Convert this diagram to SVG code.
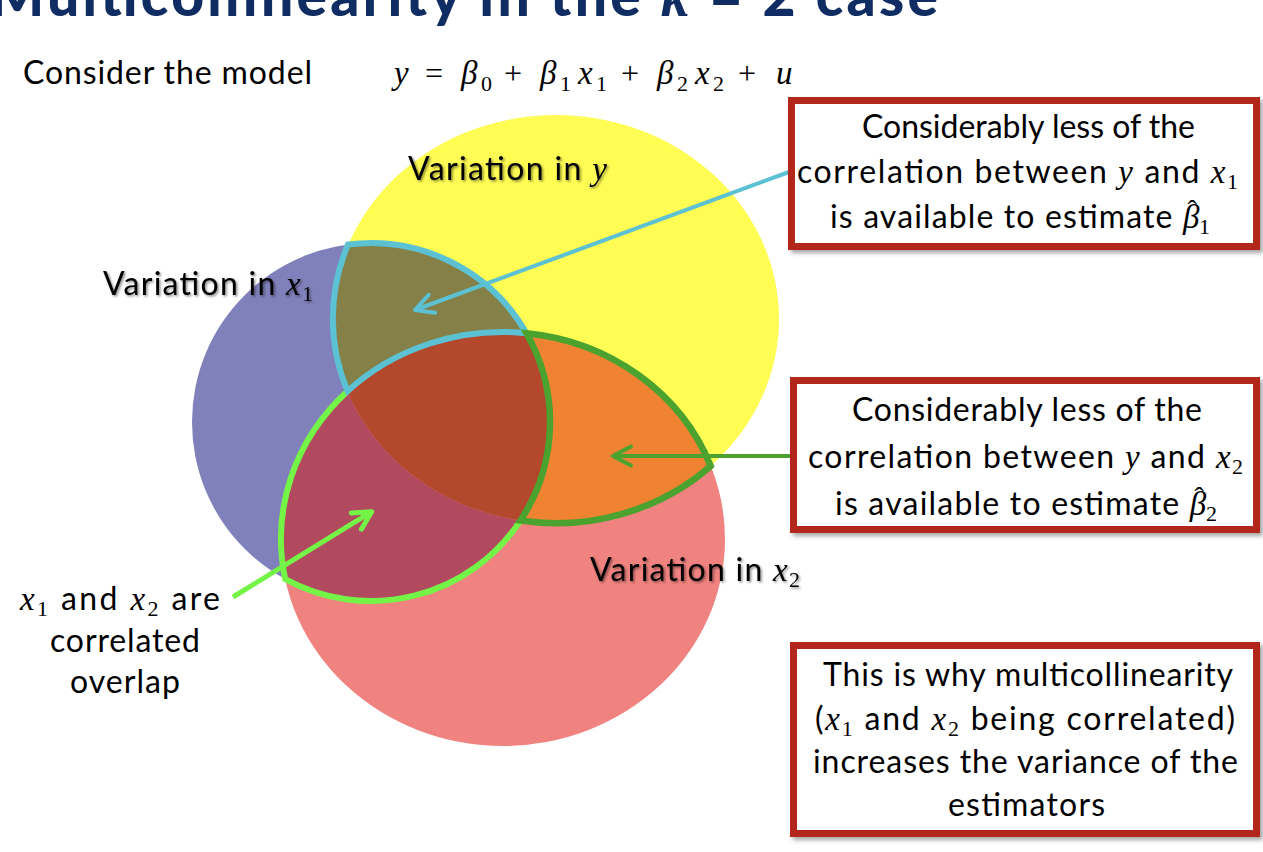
<svg xmlns="http://www.w3.org/2000/svg" width="1263" height="852" viewBox="0 0 1263 852">
<defs>
<style>
.t{font-family:Lato,"Liberation Sans",sans-serif;font-size:32px;fill:#000}
.m{font-family:"Liberation Serif",serif;font-style:italic;font-size:33px}
.s{font-family:"Liberation Serif",serif;font-style:normal;font-size:22px}
.op{font-family:"Liberation Serif",serif;font-style:normal;font-size:32px}
.hat{font-family:"Liberation Serif",serif;font-style:normal;font-size:28px}
.box{fill:#fff;stroke:#B2251D;stroke-width:7}
.conn{stroke:#B2251D;stroke-width:7;fill:none}
.lbl{filter:url(#tsh)}
</style>
<filter id="bsh" x="-5%" y="-5%" width="115%" height="120%"><feDropShadow dx="3" dy="3" stdDeviation="2" flood-color="#000" flood-opacity="0.35"/></filter>
<filter id="tsh" x="-5%" y="-20%" width="115%" height="150%"><feDropShadow dx="1.5" dy="1.5" stdDeviation="1" flood-color="#000" flood-opacity="0.45"/></filter>
<marker id="ac" viewBox="-24 -14 28 28" refX="0" refY="0" markerWidth="28" markerHeight="28" markerUnits="userSpaceOnUse" orient="auto"><path d="M-18,-9.5 L0,0 L-18,9.5" fill="none" stroke="#5BC1D3" stroke-width="4" stroke-linecap="round" stroke-linejoin="round"/></marker>
<marker id="ag" viewBox="-24 -14 28 28" refX="0" refY="0" markerWidth="28" markerHeight="28" markerUnits="userSpaceOnUse" orient="auto"><path d="M-18,-9.5 L0,0 L-18,9.5" fill="none" stroke="#4CA22F" stroke-width="4" stroke-linecap="round" stroke-linejoin="round"/></marker>
<marker id="al" viewBox="-24 -14 28 28" refX="0" refY="0" markerWidth="28" markerHeight="28" markerUnits="userSpaceOnUse" orient="auto"><path d="M-18,-9.5 L0,0 L-18,9.5" fill="none" stroke="#74F447" stroke-width="5" stroke-linecap="round" stroke-linejoin="round"/></marker>
</defs>

<rect width="1263" height="852" fill="#fff"/>

<g id="title">
<text x="-10" y="16" font-family="Lato,'Liberation Sans',sans-serif" font-weight="900" font-size="57" fill="#0F2D63" textLength="948">Multicollinearity in the <tspan font-family="'Liberation Serif',serif" font-style="italic" font-weight="700">k</tspan> = 2 case</text>
</g>

<g id="model">
<text class="t" x="23" y="84" font-size="29" textLength="289">Consider the model</text>
<text y="84" font-size="34">
<tspan class="m" font-size="35" x="394">y</tspan>
<tspan class="op" font-size="34" x="425">=</tspan>
<tspan class="m" font-size="35" x="461">β</tspan><tspan class="s" font-size="23" x="481" y="91">0</tspan>
<tspan class="op" font-size="34" x="504" y="84">+</tspan>
<tspan class="m" font-size="35" x="540">β</tspan><tspan class="s" font-size="23" x="560" y="91">1</tspan>
<tspan class="m" font-size="35" x="578" y="84">x</tspan><tspan class="s" font-size="23" x="596" y="91">1</tspan>
<tspan class="op" font-size="34" x="621" y="84">+</tspan>
<tspan class="m" font-size="35" x="657">β</tspan><tspan class="s" font-size="23" x="677" y="91">2</tspan>
<tspan class="m" font-size="35" x="695" y="84">x</tspan><tspan class="s" font-size="23" x="713" y="91">2</tspan>
<tspan class="op" font-size="34" x="738" y="84">+</tspan>
<tspan class="m" font-size="35" x="776">u</tspan>
</text>
</g>

<g id="venn">
<circle cx="371" cy="422" r="179" fill="#8080BA"/>
<ellipse cx="556" cy="319" rx="223" ry="204" fill="#FFFC54"/>
<ellipse cx="503" cy="539" rx="222" ry="207" fill="#F08380"/>
<path id="olive" d="M348,244.5 A179,179 0 0 1 526.4,333.2 A222,207 0 0 0 347.5,391.2 A223,204 0 0 1 348,244.5 Z" fill="#848048"/>
<path id="orange" d="M526.4,333.2 A222,207 0 0 1 710.7,466 A223,204 0 0 1 520.5,520.5 A179,179 0 0 0 526.4,333.2 Z" fill="#F08331"/>
<path id="pink" d="M347.5,391.2 A222,207 0 0 0 285.2,579.1 A179,179 0 0 0 520.5,520.5 A223,204 0 0 1 347.5,391.2 Z" fill="#B24A5F"/>
<path id="triple" d="M347.5,391.2 A222,207 0 0 1 526.4,333.2 A179,179 0 0 1 520.5,520.5 A223,204 0 0 1 347.5,391.2 Z" fill="#B4482D"/>
<path d="M347.5,391.2 A222,207 0 0 0 285.2,579.1 A179,179 0 0 0 520.5,520.5" fill="none" stroke="#74F447" stroke-width="6" stroke-linejoin="miter"/>
<path d="M348,244.5 A179,179 0 0 1 526.4,333.2 A222,207 0 0 0 347.5,391.2 A223,204 0 0 1 348,244.5 Z" fill="none" stroke="#5BC1D3" stroke-width="6"/>
<path d="M526.4,333.2 A222,207 0 0 1 710.7,466 A223,204 0 0 1 520.5,520.5 A179,179 0 0 0 526.4,333.2 Z" fill="none" stroke="#4CA22F" stroke-width="6.5"/>
</g>

<g id="labels" class="t">
<text class="lbl" x="408" y="180" textLength="199">Variation in <tspan class="m">y</tspan></text>
<text class="lbl" x="103" y="295" textLength="210">Variation in <tspan class="m">x</tspan><tspan class="s" dy="6">1</tspan></text>
<text class="lbl" x="590" y="581" textLength="210">Variation in <tspan class="m">x</tspan><tspan class="s" dy="6">2</tspan></text>
</g>

<g id="connectors">
<line x1="789" y1="172" x2="415" y2="310" stroke="#5BC1D3" stroke-width="4" marker-end="url(#ac)"/>
<line x1="792" y1="456" x2="613" y2="456" stroke="#4CA22F" stroke-width="4" marker-end="url(#ag)"/>
<line x1="233" y1="597" x2="371.7" y2="511.7" stroke="#74F447" stroke-width="5" marker-end="url(#al)"/>
<line class="conn" x1="1022" y1="246" x2="1022" y2="381" filter="url(#bsh)"/>
<line class="conn" x1="1028" y1="530" x2="1028" y2="646" filter="url(#bsh)"/>
</g>

<g id="note-correlated" class="t">
<text x="20" y="610" textLength="200"><tspan class="m">x</tspan><tspan class="s" dy="6">1</tspan><tspan dy="-6"> and </tspan><tspan class="m">x</tspan><tspan class="s" dy="6">2</tspan><tspan dy="-6"> are</tspan></text>
<text x="50" y="652" textLength="150">correlated</text>
<text x="70" y="693" textLength="110">overlap</text>
</g>

<g id="box1" class="t">
<rect class="box" x="791.5" y="100.5" width="465" height="146" filter="url(#bsh)"/>
<text x="862" y="138" textLength="333">Considerably less of the</text>
<text x="797" y="183" textLength="441">correlation between <tspan class="m">y</tspan> and <tspan class="m">x</tspan><tspan class="s" dy="6">1</tspan></text>
<text x="830" y="228" textLength="380">is available to estimate <tspan class="m">β</tspan><tspan class="hat" dx="-13" dy="-9">ˆ</tspan><tspan class="s" dx="1" dy="15">1</tspan></text>
</g>

<g id="box2" class="t">
<rect class="box" x="793.5" y="380.5" width="463" height="149" filter="url(#bsh)"/>
<text x="852" y="421" textLength="350">Considerably less of the</text>
<text x="808" y="468" textLength="435">correlation between <tspan class="m">y</tspan> and <tspan class="m">x</tspan><tspan class="s" dy="6">2</tspan></text>
<text x="835" y="515" textLength="382">is available to estimate <tspan class="m">β</tspan><tspan class="hat" dx="-13" dy="-9">ˆ</tspan><tspan class="s" dx="1" dy="15">2</tspan></text>
</g>

<g id="box3" class="t">
<rect class="box" x="793.5" y="645.5" width="463" height="188" filter="url(#bsh)"/>
<text x="823" y="686" textLength="410">This is why multicollinearity</text>
<text x="815" y="730" textLength="420">(<tspan class="m">x</tspan><tspan class="s" dy="6">1</tspan><tspan dy="-6"> and </tspan><tspan class="m">x</tspan><tspan class="s" dy="6">2</tspan><tspan dy="-6"> being correlated)</tspan></text>
<text x="813" y="773" textLength="425">increases the variance of the</text>
<text x="948" y="816" textLength="157">estimators</text>
</g>
</svg>
